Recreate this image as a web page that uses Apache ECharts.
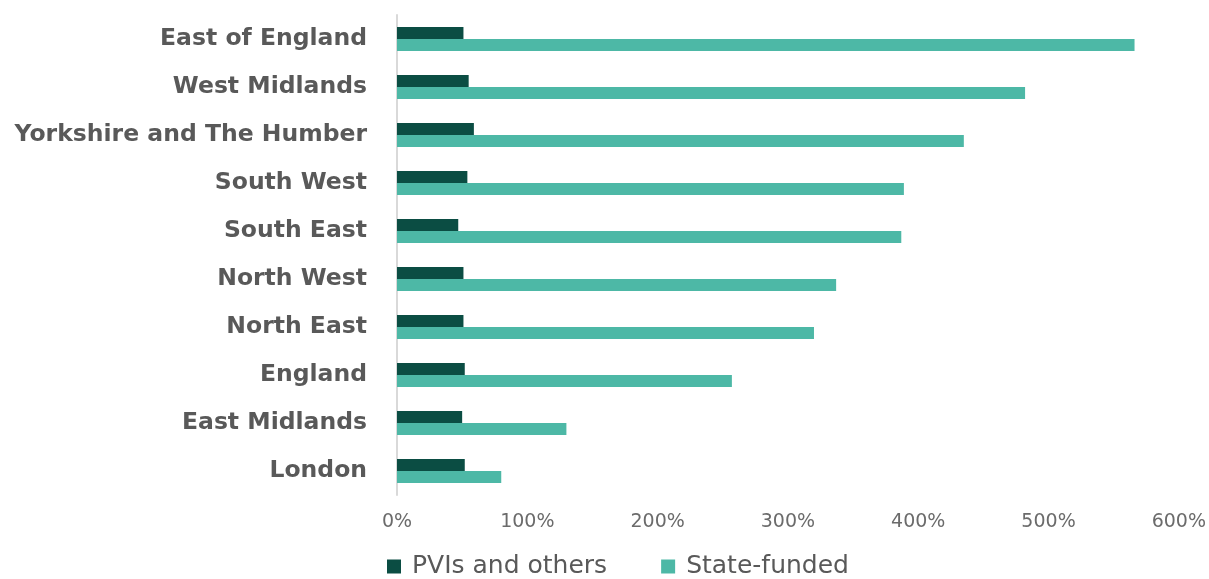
<!DOCTYPE html>
<html>
<head>
<meta charset="utf-8">
<script src="https://cdn.jsdelivr.net/npm/echarts@6/dist/echarts.min.js"></script>
<style>
  html, body { margin: 0; padding: 0; background: #fff; }
  #chart { width: 1209px; height: 579px; }
</style>
</head>
<body>
<div id="chart"></div>
<script>
// regions, top to bottom
var regions = ['East of England', 'West Midlands', 'Yorkshire and The Humber', 'South West',
  'South East', 'North West', 'North East', 'England', 'East Midlands', 'London'];
// percentage change values
var pviValues = [51, 55, 59, 54, 47, 51, 51, 52, 50, 52];
var stateValues = [566, 482, 435, 389, 387, 337, 320, 257, 130, 80];
var seriesNames = ['PVIs and others', 'State-funded'];

var chart = echarts.init(document.getElementById('chart'));
chart.setOption({
  animation: false,
  textStyle: { fontFamily: 'DejaVu Sans' },
  grid: { left: 397, right: 30, top: 15, bottom: 84 },
  legend: {
    data: seriesNames,
    bottom: -5,
    left: 382,
    itemWidth: 14,
    itemHeight: 14,
    itemGap: 54,
    icon: 'rect',
    textStyle: { fontSize: 25, color: '#595959', fontFamily: 'DejaVu Sans', padding: [0, 0, 0, 6] }
  },
  xAxis: {
    type: 'value',
    min: 0,
    max: 600,
    interval: 100,
    axisLine: { show: false },
    axisTick: { show: false },
    splitLine: { show: false },
    axisLabel: {
      formatter: '{value}%',
      fontSize: 19,
      color: '#6b6b6b',
      margin: 18
    }
  },
  yAxis: {
    type: 'category',
    inverse: true,
    data: regions,
    axisLine: { show: true, lineStyle: { color: '#d9d9d9', width: 2 } },
    axisTick: { show: false },
    axisLabel: {
      fontSize: 23.5,
      fontWeight: 'bold',
      color: '#595959',
      margin: 30
    }
  },
  series: [
    {
      name: seriesNames[0],
      type: 'bar',
      data: pviValues,
      barGap: '0%',
      barCategoryGap: '50%',
      itemStyle: { color: '#0b4d43' }
    },
    {
      name: seriesNames[1],
      type: 'bar',
      data: stateValues,
      barGap: '0%',
      barCategoryGap: '50%',
      itemStyle: { color: '#4db8a6' }
    }
  ]
});
</script>
</body>
</html>
